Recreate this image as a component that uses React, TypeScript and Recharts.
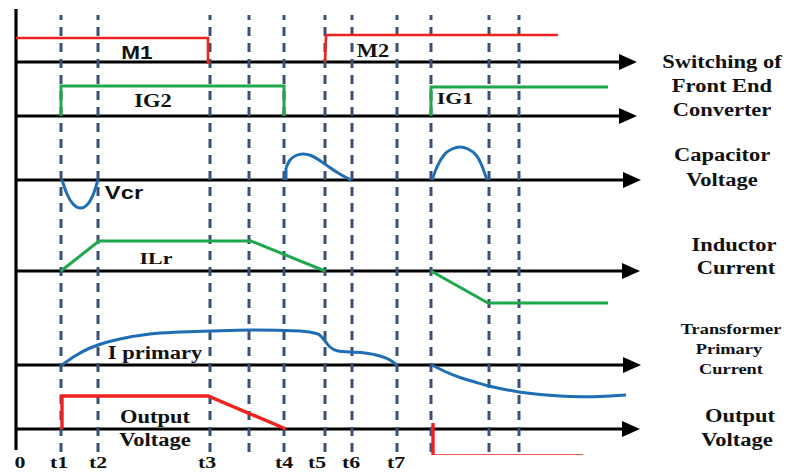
import { ComposedChart, Line, XAxis, YAxis, ReferenceLine } from "recharts";

type Pt = [number, number];

// time instants, 0 = the vertical axis
const tickTimes = [4, 43, 82, 191, 268, 301, 335, 380];
const tickNames = ["0", "t1", "t2", "t3", "t4", "t5", "t6", "t7"];
const markerTimes = [45, 82, 194, 233, 268, 309, 336, 381, 415, 473, 503];
const axisEnds = [621, 621, 625, 624, 625, 624];

// waveforms: [time, level above the lane's own zero line]
const m1: Pt[] = [[0, 24], [192, 24], [192, -2]];
const m2: Pt[] = [[309, 0], [310, 27], [542, 27]];
const ig2: Pt[] = [[45, 0], [45, 30], [268, 30], [268, 0]];
const ig1: Pt[] = [[415, 0], [415, 29], [592, 29]];
const vcrDip: Pt[] = [[46, 0], [51, -14], [57, -24], [64, -28], [71, -25], [77, -15], [82, 0]];
const vcrJump: Pt[] = [[270, 0], [270, 12]];
const vcrArc1: Pt[] = [[270, 12], [274, 20], [280, 24.5], [287, 26], [295, 24.5], [303, 20], [313, 13], [323, 6.5], [335, 0]];
const vcrArc2: Pt[] = [[416, 0], [421, 13], [428, 25], [436, 31], [444, 33], [452, 31], [460, 25], [466, 14], [471, 0]];
const ilrOn: Pt[] = [[45, 0], [83, 30], [235, 30], [309, 0]];
const ilrOff: Pt[] = [[415, 0], [472, -32], [592, -32]];
const iPrimary: Pt[] = [[46, 0], [59, 9], [74, 17], [82, 20], [104, 26], [134, 31], [164, 33], [194, 34], [234, 35], [284, 34], [302, 31], [309, 24], [314, 18], [322, 14], [334, 13], [349, 12], [364, 9], [374, 5], [381, 0]];
const iPrimaryNeg: Pt[] = [[416, 0], [429, -6.5], [444, -12.5], [459, -17], [473, -21], [489, -24.5], [503, -27], [524, -29.5], [544, -31], [564, -31.8], [584, -31.5], [610, -30]];
const vOut: Pt[] = [[46, 0], [46, 33], [192, 33], [270, 0]];
const vOutNeg: Pt[] = [[417, 6], [417, -27], [567, -27]];

// layout
const W = 787;
const H = 475;
const PLOT_H = 455;
const laneBase = [393, 339, 275, 184, 90, 26];
const RED = "#f0211f";
const GREEN = "#1ea84b";
const BLUE = "#1f6db3";
const DASH = "#3b5174";
const SERIF = '"Liberation Serif", "Times New Roman", serif';
const SANS = '"Liberation Sans", Arial, sans-serif';

type Curve = "linear" | "monotone" | "natural";
const series: { pts: Pt[]; lane: number; color: string; w: number; curve: Curve }[] = [
  { pts: m1, lane: 0, color: RED, w: 2.6, curve: "linear" },
  { pts: m2, lane: 0, color: RED, w: 2.6, curve: "linear" },
  { pts: ig2, lane: 1, color: GREEN, w: 3, curve: "linear" },
  { pts: ig1, lane: 1, color: GREEN, w: 3, curve: "linear" },
  { pts: vcrDip, lane: 2, color: BLUE, w: 3, curve: "natural" },
  { pts: vcrJump, lane: 2, color: BLUE, w: 3, curve: "linear" },
  { pts: vcrArc1, lane: 2, color: BLUE, w: 3, curve: "natural" },
  { pts: vcrArc2, lane: 2, color: BLUE, w: 3, curve: "natural" },
  { pts: ilrOn, lane: 3, color: GREEN, w: 3, curve: "linear" },
  { pts: ilrOff, lane: 3, color: GREEN, w: 3, curve: "linear" },
  { pts: iPrimary, lane: 4, color: BLUE, w: 3, curve: "monotone" },
  { pts: iPrimaryNeg, lane: 4, color: BLUE, w: 3, curve: "natural" },
  { pts: vOut, lane: 5, color: RED, w: 3.4, curve: "linear" },
  { pts: vOutNeg, lane: 5, color: RED, w: 3.4, curve: "linear" },
];

const notes: { text: string; x: number; y: number; size: number; font?: string }[] = [
  { text: "M1", x: 137, y: 53, size: 18, font: SANS },
  { text: "M2", x: 373, y: 51, size: 18 },
  { text: "IG2", x: 153, y: 101, size: 18 },
  { text: "IG1", x: 455, y: 99, size: 17.5 },
  { text: "Vcr", x: 124, y: 192, size: 19, font: SANS },
  { text: "ILr", x: 156, y: 259, size: 17.5 },
  { text: "I primary", x: 155, y: 353, size: 18 },
  { text: "Output", x: 155, y: 417, size: 18 },
  { text: "Voltage", x: 155, y: 440, size: 18 },
  { text: "Switching of", x: 722, y: 62, size: 18 },
  { text: "Front End", x: 722, y: 86, size: 18 },
  { text: "Converter", x: 722, y: 110, size: 18 },
  { text: "Capacitor", x: 722, y: 155, size: 18 },
  { text: "Voltage", x: 722, y: 180, size: 18 },
  { text: "Inductor", x: 734, y: 245, size: 18 },
  { text: "Current", x: 736, y: 268, size: 18 },
  { text: "Transformer", x: 731, y: 329, size: 14.7 },
  { text: "Primary", x: 729, y: 349, size: 14.7 },
  { text: "Current", x: 731, y: 369, size: 14.7 },
  { text: "Output", x: 740, y: 416, size: 18 },
  { text: "Voltage", x: 737, y: 440, size: 18 },
];

function Arrow(props: any) {
  const { x1, y1, x2, y2 } = props;
  return (
    <g>
      <line x1={x1} y1={y1} x2={x2 - 12} y2={y2} stroke="#000" strokeWidth={3.2} />
      <polygon points={`${x2},${y2} ${x2 - 18},${y2 - 8} ${x2 - 18},${y2 + 8}`} fill="#000" />
    </g>
  );
}

function TimeTick(props: any) {
  const { x, y, payload } = props;
  const i = tickTimes.indexOf(payload.value);
  return (
    <g transform={`translate(${x},${y})`}>
      <text
        transform="scale(1.25,1)"
        textAnchor="middle"
        dy="0.71em"
        fontFamily={SERIF}
        fontWeight="bold"
        fontSize={17.5}
        fill="#111"
      >
        {tickNames[i]}
      </text>
    </g>
  );
}

export default function App() {
  return (
    <div style={{ position: "absolute", left: 0, top: 0, width: W, height: H, background: "#fff" }}>
      <ComposedChart width={W} height={H} margin={{ top: 0, right: 0, bottom: 0, left: 0 }}>
        <XAxis
          dataKey="t"
          type="number"
          domain={[-16, W - 16]}
          allowDataOverflow
          ticks={tickTimes}
          interval={0}
          tick={<TimeTick />}
          axisLine={false}
          tickLine={false}
          tickSize={0}
          tickMargin={1}
          height={H - PLOT_H}
        />
        <YAxis type="number" domain={[0, PLOT_H]} allowDataOverflow hide />

        {laneBase.map((b, i) => (
          <ReferenceLine
            key={"lane" + i}
            segment={[{ x: 0, y: b }, { x: axisEnds[i], y: b }]}
            ifOverflow="visible"
            shape={Arrow}
          />
        ))}

        {markerTimes.map((t) => (
          <ReferenceLine
            key={"m" + t}
            segment={[{ x: t, y: 3 }, { x: t, y: 440 }]}
            ifOverflow="visible"
            stroke={DASH}
            strokeWidth={3}
            strokeDasharray="9 7"
          />
        ))}

        <ReferenceLine
          segment={[{ x: 0, y: 5 }, { x: 0, y: 446 }]}
          ifOverflow="visible"
          stroke="#000"
          strokeWidth={3.2}
        />

        {series.map((s, i) => (
          <Line
            key={"s" + i}
            data={s.pts.map(([t, v]) => ({ t, v: laneBase[s.lane] + v }))}
            dataKey="v"
            type={s.curve}
            stroke={s.color}
            strokeWidth={s.w}
            dot={false}
            activeDot={false}
            isAnimationActive={false}
          />
        ))}
      </ComposedChart>

      {notes.map((n, i) => (
        <div
          key={"n" + i}
          style={{
            position: "absolute",
            left: n.x,
            top: n.y,
            transform: "translate(-50%, -50%) scaleX(1.25)",
            fontFamily: n.font ?? SERIF,
            fontWeight: "bold",
            fontSize: n.size,
            lineHeight: 1,
            whiteSpace: "nowrap",
            color: "#111",
          }}
        >
          {n.text}
        </div>
      ))}
    </div>
  );
}
